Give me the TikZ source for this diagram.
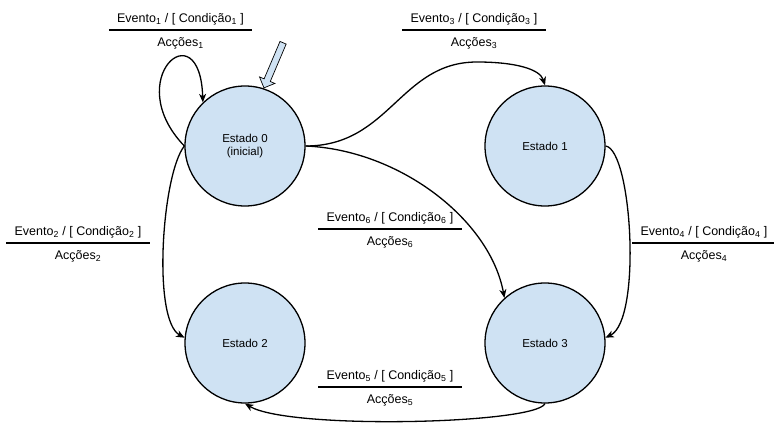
\documentclass[tikz,border=0pt]{standalone}
\usepackage{fontspec}
\setmainfont{Liberation Sans}
\usetikzlibrary{arrows.meta,shapes.arrows}
\definecolor{estadoazul}{HTML}{CFE2F3}

\begin{document}
\begin{tikzpicture}[
   x=1pt,y=1pt,
   estado/.style={circle,draw,line width=1.3pt,fill=estadoazul,minimum size=120pt,inner sep=0pt,align=center,font=\fontsize{11.5}{12.5}\selectfont},
   evento/.style={anchor=south,inner xsep=8pt,inner ysep=4.5pt,text depth=3pt,font=\fontsize{12.5}{14}\selectfont},
   accoes/.style={anchor=north,inner sep=0pt,text height=9pt,yshift=-7.5pt,font=\fontsize{12.5}{14}\selectfont},
   traco/.style={line width=1.3pt},
   trans/.style={-{Stealth[length=8.5pt,width=7pt,inset=2.5pt]},line width=1.3pt},
   inicial/.style={single arrow,draw,line width=0.7pt,fill=estadoazul,inner xsep=0pt,inner ysep=3pt,minimum height=49pt,single arrow head extend=5pt}
 ]
  \useasboundingbox (0,0) rectangle (774,424);

  \node[estado] (s0) at (245,278) {Estado 0\\(inicial)};
  \node[estado] (s1) at (545,278) {Estado 1};
  \node[estado] (s2) at (245,81) {Estado 2};
  \node[estado] (s3) at (545,81) {Estado 3};

  \node[inicial,rotate=-113,anchor=tip] (ini) at (s0.72) {};

  \draw[trans] (s0.180) .. controls (120,345) and (200,415) .. (s0.134);
  \draw[trans] (s0.east) .. controls (390,278) and (400,362) .. (477,362)
     .. controls (515,362) and (540,355) .. (s1.north);
  \draw[trans] (s0.west) .. controls (162,250) and (152,104) .. (s2.175);
  \draw[trans] (s0.east) .. controls (400,274) and (490,204) .. (s3.132);
  \draw[trans] (s1.east) .. controls (632,274) and (642,104) .. (s3.5);
  \draw[trans] (s3.south) .. controls (535,0) and (290,-6) .. (s2.south);

  \node[evento] (ev1) at (180.5,394) {Evento\textsubscript{1} / [ Condição\textsubscript{1} ]};
  \draw[traco] (ev1.south west) -- (ev1.south east);
  \node[accoes] (ac1) at (ev1.south) {Acções\textsubscript{1}};

  \node[evento] (ev2) at (78,181) {Evento\textsubscript{2} / [ Condição\textsubscript{2} ]};
  \draw[traco] (ev2.south west) -- (ev2.south east);
  \node[accoes] (ac2) at (ev2.south) {Acções\textsubscript{2}};

  \node[evento] (ev3) at (474,394) {Evento\textsubscript{3} / [ Condição\textsubscript{3} ]};
  \draw[traco] (ev3.south west) -- (ev3.south east);
  \node[accoes] (ac3) at (ev3.south) {Acções\textsubscript{3}};

  \node[evento] (ev4) at (704,181) {Evento\textsubscript{4} / [ Condição\textsubscript{4} ]};
  \draw[traco] (ev4.south west) -- (ev4.south east);
  \node[accoes] (ac4) at (ev4.south) {Acções\textsubscript{4}};

  \node[evento] (ev5) at (390,37) {Evento\textsubscript{5} / [ Condição\textsubscript{5} ]};
  \draw[traco] (ev5.south west) -- (ev5.south east);
  \node[accoes] (ac5) at (ev5.south) {Acções\textsubscript{5}};

  \node[evento] (ev6) at (390,195) {Evento\textsubscript{6} / [ Condição\textsubscript{6} ]};
  \draw[traco] (ev6.south west) -- (ev6.south east);
  \node[accoes] (ac6) at (ev6.south) {Acções\textsubscript{6}};
\end{tikzpicture}
\end{document}
